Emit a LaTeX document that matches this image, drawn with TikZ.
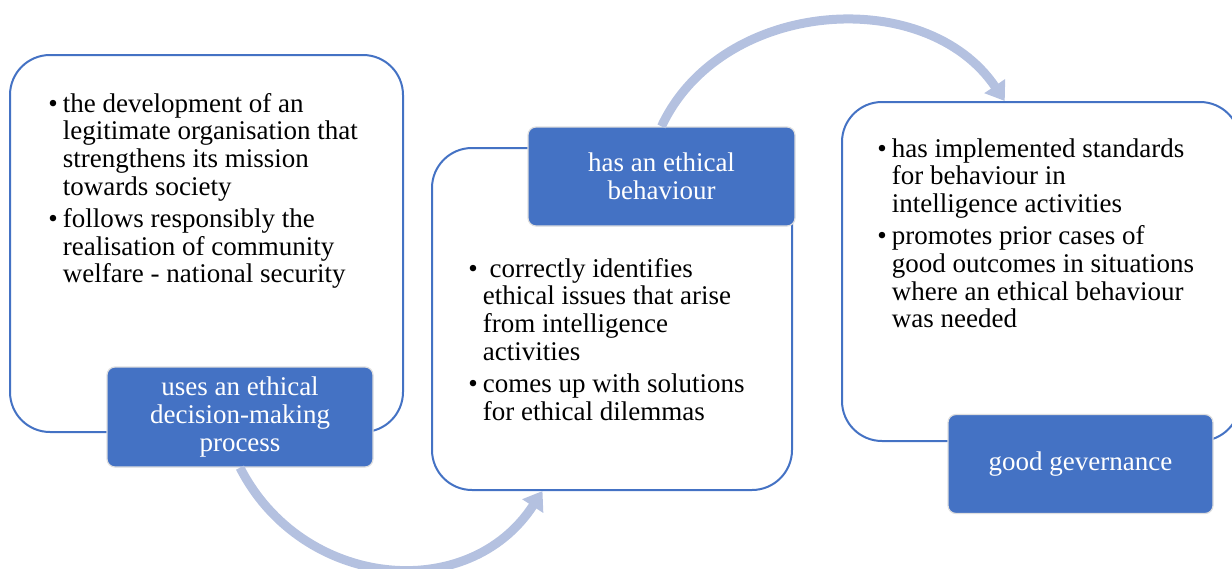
\documentclass[tikz,border=0pt]{standalone}
\usepackage{fontspec}
\setmainfont{Liberation Serif}
\usetikzlibrary{arrows.meta}
\definecolor{boxblue}{HTML}{4472C4}
\definecolor{arrowblue}{HTML}{B4C1E0}

\begin{document}
\begin{tikzpicture}[x=0.5pt,y=-0.5pt,>={Triangle[width=12pt,length=9pt]},
	outline/.style={draw=boxblue,line width=1pt,fill=white,rounded corners=20pt},
	headbox/.style={draw=gray!25,line width=0.6pt,fill=boxblue,rounded corners=4pt,text=white,align=center,font=\fontsize{13.5}{13.9}\selectfont},
	listtext/.style={anchor=base west,inner sep=0pt,font=\rmfamily\fontsize{13.5}{13.9}\selectfont},
	flowarrow/.style={->,draw=arrowblue,line width=4.5pt}]
	\useasboundingbox (0,0) rectangle (1232,568);
	\node[outline,minimum width=196.5pt,minimum height=188.5pt] (box1) at (206.5,243.5) {};
	\node[outline,minimum width=180pt,minimum height=171pt] (box2) at (612,319) {};
	\node[outline,minimum width=199pt,minimum height=169.5pt] (box3) at (1041,271.5) {};
	\node[headbox,minimum width=133pt,minimum height=50pt] (lab1) at (240,417) {uses an ethical\\decision-making\\process};
	\node[headbox,minimum width=133.5pt,minimum height=49.5pt] (lab2) at (661.5,176.5) {has an ethical\\behaviour};
	\node[headbox,minimum width=132.5pt,minimum height=49.5pt] (lab3) at (1080.5,464) {good gevernance};
	\node[listtext] (txt1) at (48,112) {\begin{tabular}[t]{@{}l@{\hspace{2.5pt}}l@{}}
		\textbullet & the development of an\\
		& legitimate organisation that\\
		& strengthens its mission\\
		& towards society\\[2pt]
		\textbullet & follows responsibly the\\
		& realisation of community\\
		& welfare - national security
	\end{tabular}};
	\node[listtext] (txt2) at (468,277) {\begin{tabular}[t]{@{}l@{\hspace{2.5pt}}l@{}}
		\textbullet & \ correctly identifies\\
		& ethical issues that arise\\
		& from intelligence\\
		& activities\\[2pt]
		\textbullet & comes up with solutions\\
		& for ethical dilemmas
	\end{tabular}};
	\node[listtext] (txt3) at (877,157) {\begin{tabular}[t]{@{}l@{\hspace{2.5pt}}l@{}}
		\textbullet & has implemented standards\\
		& for behaviour in\\
		& intelligence activities\\[2pt]
		\textbullet & promotes prior cases of\\
		& good outcomes in situations\\
		& where an ethical behaviour\\
		& was needed
	\end{tabular}};
	\draw[flowarrow] (lab1.south) to[out=-63,in=-123,looseness=1.15] (box2.248);
	\draw[flowarrow] (lab2.north) to[out=65,in=124,looseness=1.05] (box3.102);
\end{tikzpicture}
\end{document}
